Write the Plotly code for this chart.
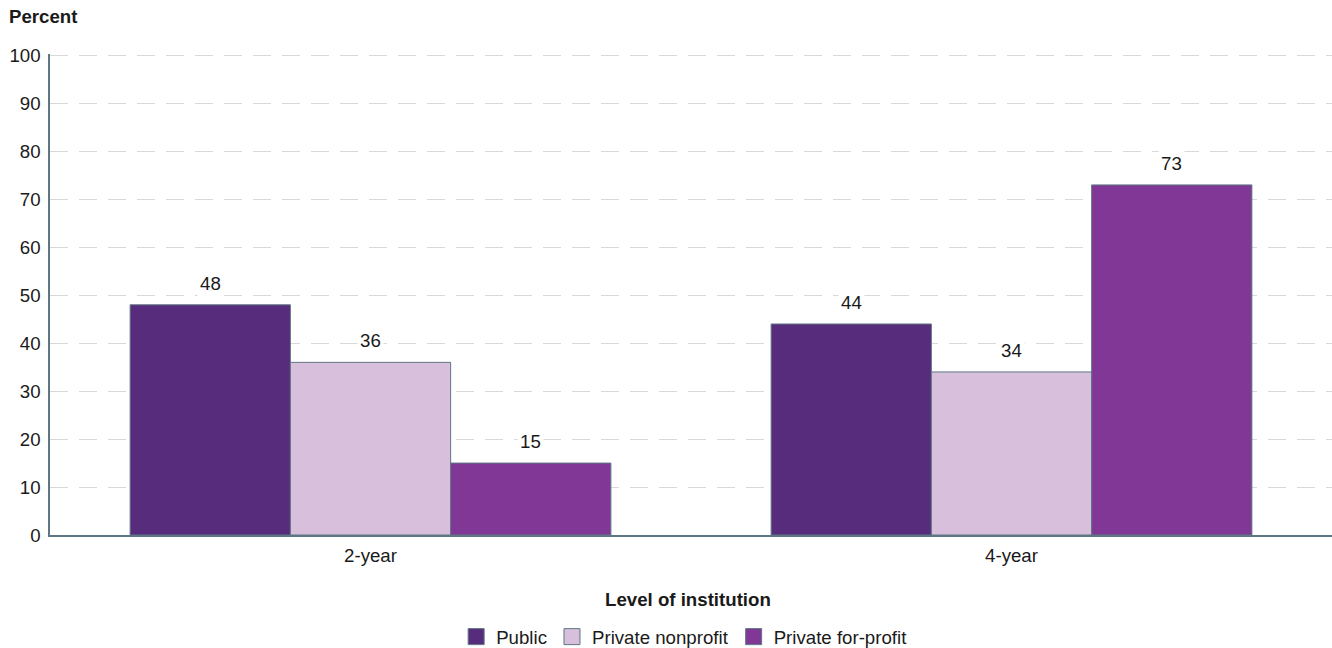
import plotly.graph_objects as go

# Share of students by level and control of institution
levels = ["2-year", "4-year"]
series_names = ["Public", "Private nonprofit", "Private for-profit"]
public = [48, 44]
private_nonprofit = [36, 34]
private_for_profit = [15, 73]

y_ticks = [0, 10, 20, 30, 40, 50, 60, 70, 80, 90, 100]

colors = ["#582c7c", "#d8bfdc", "#803795"]
outline = "#5f7684"
font_family = "Liberation Sans, Arial, sans-serif"
text_color = "#1a1a1a"
fs = 18.67  # 14pt

series_values = [public, private_nonprofit, private_for_profit]
bar_width = 0.25
offsets = [-bar_width, 0.0, bar_width]
x_pos = list(range(len(levels)))

fig = go.Figure()
for name, vals, col, off in zip(series_names, series_values, colors, offsets):
    fig.add_trace(go.Bar(
        name=name,
        x=[p + off for p in x_pos],
        y=vals,
        width=bar_width,
        marker=dict(color=col, line=dict(color=outline, width=1)),
        hoverinfo="y",
        showlegend=False,
    ))
    for p, v in zip(x_pos, vals):
        fig.add_annotation(
            x=p + off, y=v, xref="x", yref="y",
            text=str(v), showarrow=False,
            yanchor="bottom", yshift=8,
            bgcolor="white", borderpad=2,
            font=dict(family=font_family, size=fs, color=text_color),
        )

# legend entries with larger square swatches
for name, col in zip(series_names, colors):
    fig.add_trace(go.Scatter(
        name=name, x=[None], y=[None], mode="markers",
        marker=dict(symbol="square", size=20, color=col,
                    line=dict(color=outline, width=1)),
        showlegend=True, hoverinfo="skip",
    ))

fig.add_annotation(
    x=0, xref="paper", xanchor="left", xshift=-43,
    y=1, yref="paper", yanchor="bottom", yshift=25,
    text="<b>Percent</b>", showarrow=False,
    font=dict(family=font_family, size=fs, color=text_color),
)
fig.add_annotation(
    x=0.498, xref="paper", xanchor="center",
    y=-0.134, yref="paper", yanchor="middle",
    text="<b>Level of institution</b>", showarrow=False,
    font=dict(family=font_family, size=fs, color=text_color),
)

fig.update_layout(
    width=1332, height=648,
    margin=dict(l=50, r=0, t=54, b=113),
    paper_bgcolor="white", plot_bgcolor="white",
    barmode="overlay",
    font=dict(family=font_family, size=fs, color=text_color),
    showlegend=True,
    legend=dict(
        orientation="h", x=0.514, xanchor="center", xref="container",
        y=0.017, yanchor="middle", yref="container",
        font=dict(family=font_family, size=fs, color=text_color),
        itemwidth=30, traceorder="normal",
    ),
    xaxis=dict(
        range=[-0.5, 1.5],
        tickvals=x_pos, ticktext=levels,
        showgrid=False, zeroline=False,
        showline=True, linecolor=outline, linewidth=1.5,
        ticks="", tickfont=dict(size=fs),
        ticklabelstandoff=3,
    ),
    yaxis=dict(
        range=[0, 100.3], tickvals=y_ticks,
        showgrid=True, gridcolor="#d9d9d9", gridwidth=1.2,
        griddash="18px,11px",
        zeroline=False,
        showline=True, linecolor=outline, linewidth=1.5,
        ticks="", tickfont=dict(size=fs),
        ticklabelstandoff=4,
    ),
)

fig.write_html("out.html")
